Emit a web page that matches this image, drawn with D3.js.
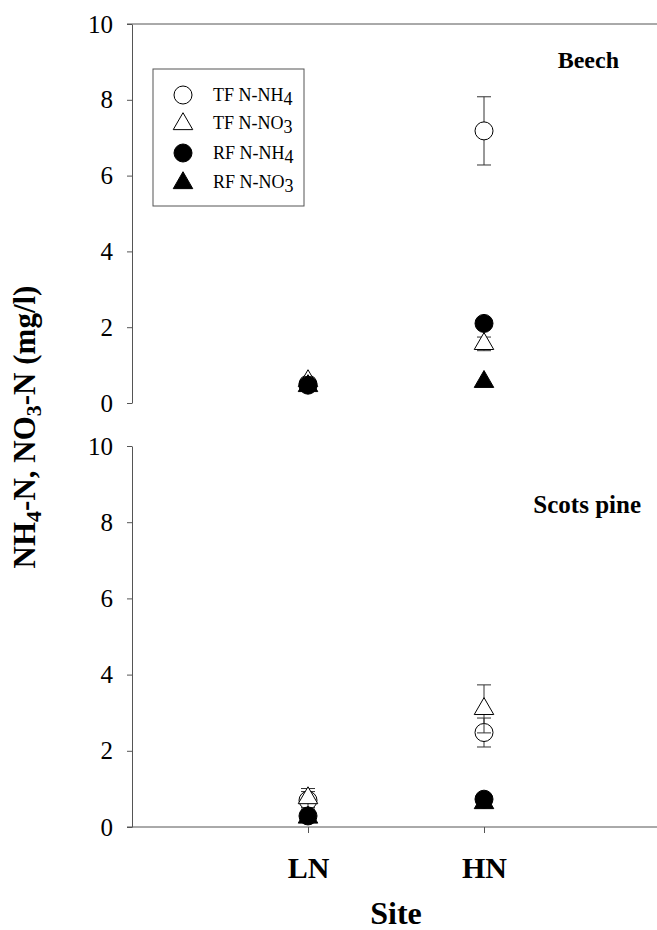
<!DOCTYPE html>
<html>
  <head>
    <meta charset="utf-8">
    <title>NH4-N, NO3-N by site</title>
    <script src="https://d3js.org/d3.v7.min.js"></script>
    <style>
      body { margin: 0; background: #fff; }
      text { font-family: "Liberation Serif", "Times New Roman", serif; fill: #000; }
      .axis path, .axis line { stroke: #555; stroke-width: 1; }
      .axis text { font-size: 25px; }
      .xaxis text { font-size: 30px; font-weight: bold; }
    </style>
  </head>
  <body>
    <div id="vis"></div>
    <script>
        const width = 657;
        const height = 930;

        // sites on the x axis
        const sites = ["LN", "HN"];
        const yTicks = [0, 2, 4, 6, 8, 10];

        // Beech panel (means and SE, one value per site)
        const beechTfNH4 = [0.50, 7.18];
        const beechTfNH4Err = [0.08, 0.90];
        const beechTfNO3 = [0.58, 1.56];
        const beechTfNO3Err = [0.08, 0.18];
        const beechRfNH4 = [0.47, 2.10];
        const beechRfNO3 = [0.45, 0.56];

        // Scots pine panel
        const pineTfNH4 = [0.70, 2.48];
        const pineTfNH4Err = [0.23, 0.38];
        const pineTfNO3 = [0.76, 3.10];
        const pineTfNO3Err = [0.25, 0.63];
        const pineRfNH4 = [0.29, 0.73];
        const pineRfNO3 = [0.25, 0.63];

        const legendItems = [
          { name: "TF N-NH", sub: "4", shape: "circle", fill: "#fff" },
          { name: "TF N-NO", sub: "3", shape: "triangle", fill: "#fff" },
          { name: "RF N-NH", sub: "4", shape: "circle", fill: "#000" },
          { name: "RF N-NO", sub: "3", shape: "triangle", fill: "#000" }
        ];

        const vis = d3.select('#vis')
                      .append('svg')
                      .attr('width', width)
                      .attr('height', height);

        const x = d3.scaleLinear().domain([0, 3]).range([132, 660]);
        const yTop = d3.scaleLinear().domain([0, 10]).range([403, 24]);
        const yBot = d3.scaleLinear().domain([0, 10]).range([827, 446]);

        const triangle = d3.symbol().type(d3.symbolTriangle).size(165);
        const R = 9;

        // y axes
        [yTop, yBot].forEach(y => {
          vis.append("g")
             .attr("class", "axis")
             .attr("transform", "translate(132,0)")
             .call(d3.axisLeft(y).tickValues(yTicks).tickSize(5).tickSizeOuter(0).tickPadding(14));
        });

        // top frame line of the upper panel
        vis.append("line")
           .attr("x1", 127).attr("x2", width)
           .attr("y1", yTop(10)).attr("y2", yTop(10))
           .attr("stroke", "#555");

        // x axis at the bottom
        const xAxis = vis.append("g")
           .attr("class", "axis xaxis")
           .attr("transform", `translate(0,${yBot(0)})`)
           .call(d3.axisBottom(x).tickValues([1, 2]).tickFormat(i => sites[i - 1])
                   .tickSize(6).tickSizeOuter(0).tickPadding(24));
        xAxis.select(".domain").remove();
        vis.append("line")
           .attr("x1", 127).attr("x2", width)
           .attr("y1", yBot(0)).attr("y2", yBot(0))
           .attr("stroke", "#555");

        // draws one series: error bars first, then markers
        function drawSeries(y, values, errs, shape, fill) {
          const g = vis.append("g");
          if (errs) {
            values.forEach((v, i) => {
              const cx = x(i + 1);
              g.append("line").attr("x1", cx).attr("x2", cx)
               .attr("y1", y(v - errs[i])).attr("y2", y(v + errs[i]))
               .attr("stroke", "#333");
              [v - errs[i], v + errs[i]].forEach(e => {
                g.append("line").attr("x1", cx - 7).attr("x2", cx + 7)
                 .attr("y1", y(e)).attr("y2", y(e))
                 .attr("stroke", "#333");
              });
            });
          }
          values.forEach((v, i) => {
            if (shape === "circle") {
              g.append("circle").attr("cx", x(i + 1)).attr("cy", y(v)).attr("r", R)
               .attr("fill", fill).attr("stroke", "#000");
            } else {
              g.append("path").attr("d", triangle)
               .attr("transform", `translate(${x(i + 1)},${y(v)})`)
               .attr("fill", fill).attr("stroke", "#000");
            }
          });
        }

        drawSeries(yTop, beechTfNH4, beechTfNH4Err, "circle", "#fff");
        drawSeries(yTop, beechTfNO3, beechTfNO3Err, "triangle", "#fff");
        drawSeries(yTop, beechRfNO3, null, "triangle", "#000");
        drawSeries(yTop, beechRfNH4, null, "circle", "#000");

        drawSeries(yBot, pineTfNH4, pineTfNH4Err, "circle", "#fff");
        drawSeries(yBot, pineTfNO3, pineTfNO3Err, "triangle", "#fff");
        drawSeries(yBot, pineRfNO3, null, "triangle", "#000");
        drawSeries(yBot, pineRfNH4, null, "circle", "#000");

        // panel titles
        vis.append("text").attr("x", 619).attr("y", 68)
           .attr("text-anchor", "end").attr("font-weight", "bold").attr("font-size", 24)
           .text("Beech");
        vis.append("text").attr("x", 641).attr("y", 513)
           .attr("text-anchor", "end").attr("font-weight", "bold").attr("font-size", 25)
           .text("Scots pine");

        // legend
        const legend = vis.append("g");
        legend.append("rect").attr("x", 153).attr("y", 69).attr("width", 151).attr("height", 137)
              .attr("fill", "#fff").attr("stroke", "#555");
        const rowY = [95, 123, 153, 182];
        legendItems.forEach((d, i) => {
          if (d.shape === "circle") {
            legend.append("circle").attr("cx", 183).attr("cy", rowY[i]).attr("r", R)
                  .attr("fill", d.fill).attr("stroke", "#000");
          } else {
            legend.append("path").attr("d", triangle)
                  .attr("transform", `translate(183,${rowY[i] + 1})`)
                  .attr("fill", d.fill).attr("stroke", "#000");
          }
          const t = legend.append("text").attr("x", 213).attr("y", rowY[i] + 6)
                          .attr("font-size", 18);
          t.append("tspan").text(d.name);
          t.append("tspan").attr("dy", 4).text(d.sub);
        });

        // axis titles
        const yl = vis.append("text")
           .attr("transform", "translate(35,427) rotate(-90)")
           .attr("text-anchor", "middle").attr("font-weight", "bold").attr("font-size", 31);
        yl.append("tspan").text("NH");
        yl.append("tspan").attr("dy", 6).attr("font-size", 22).text("4");
        yl.append("tspan").attr("dy", -6).text("-N, NO");
        yl.append("tspan").attr("dy", 6).attr("font-size", 22).text("3");
        yl.append("tspan").attr("dy", -6).text("-N (mg/l)");

        vis.append("text").attr("x", 396).attr("y", 924)
           .attr("text-anchor", "middle").attr("font-weight", "bold").attr("font-size", 32)
           .text("Site");
    </script>
  </body>
</html>
